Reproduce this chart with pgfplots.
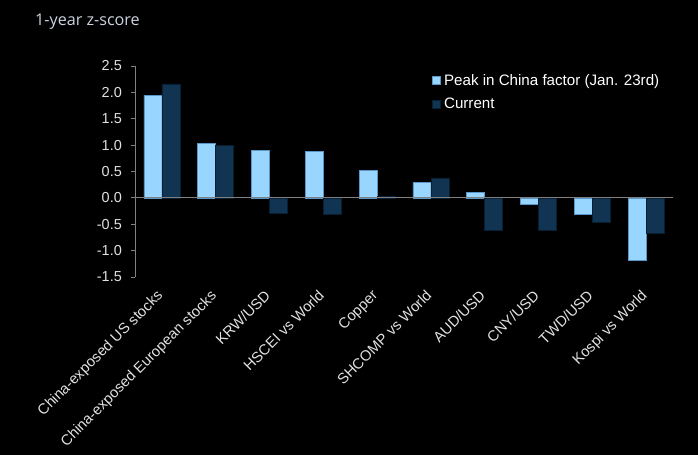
\documentclass[border=0pt]{standalone}
\usepackage{fontspec}
\setmainfont{Liberation Sans}
\newfontfamily\titlefont{Open Sans}
\usepackage{pgfplots}
\pgfplotsset{compat=1.18}
\definecolor{lightbar}{RGB}{153,214,255}
\definecolor{lightedge}{RGB}{90,150,200}
\definecolor{darkbar}{RGB}{16,52,82}
\definecolor{darkedge}{RGB}{8,30,50}
\definecolor{axisgrey}{RGB}{128,128,128}
\definecolor{labeltext}{RGB}{225,225,225}
\definecolor{titletext}{RGB}{205,212,225}

\begin{document}
\begin{tikzpicture}
  \path[use as bounding box, fill=black] (0,0) rectangle (698bp,455bp);
  \node[anchor=base west, text=titletext, inner sep=0pt, font=\titlefont\fontsize{16.2}{19}\selectfont]
    at (35bp,429bp) {1-year z-score};
  \begin{axis}[
      at={(135bp,178bp)}, anchor=south west,
      scale only axis,
      width=538bp, height=211bp,
      ybar=0pt, bar width=18bp,
      xmin=-0.5, xmax=9.5,
      ymin=-1.5, ymax=2.5,
      ytick={-1.5,-1,...,2.5},
      xtick={0,...,9},
      xticklabels={China-exposed US stocks, China-exposed European stocks, KRW/USD, HSCEI vs World, Copper, SHCOMP vs World, AUD/USD, CNY/USD, TWD/USD, Kospi vs World},
      axis y line*=left,
      axis x line*=bottom,
      x axis line style={draw=none},
      y axis line style={axisgrey, line width=0.8bp},
      x tick style={draw=none},
      y tick style={axisgrey, line width=0.8bp},
      tick align=outside,
      major tick length=4bp,
      /pgf/number format/assume math mode=true,
      yticklabel style={/pgf/number format/fixed, /pgf/number format/fixed zerofill, /pgf/number format/precision=1,
        font=\fontsize{14.5}{16}\selectfont, text=labeltext, inner sep=0pt, xshift=-9bp},
      xticklabel style={rotate=45, anchor=north east, inner sep=0pt, xshift=-9.7bp, yshift=-1.2bp,
        font=\fontsize{14.8}{16}\selectfont, text=labeltext},
      legend style={at={(0.547,0.975)}, anchor=north west, draw=none, fill=none,
        text=white, font=\fontsize{15.2}{17}\selectfont, row sep=9bp,
        nodes={inner sep=1bp, anchor=west}},
      legend cell align=left,
      legend image code/.code={\fill[#1] (0bp,-4bp) rectangle (8bp,4bp);},
    ]
    \addplot[fill=lightbar, draw=lightedge, line width=0.6bp] coordinates {
      (0,1.95) (1,1.04) (2,0.90) (3,0.88) (4,0.52) (5,0.29) (6,0.10) (7,-0.13) (8,-0.32) (9,-1.18)};
    \addplot[fill=darkbar, draw=darkedge, line width=0.6bp] coordinates {
      (0,2.16) (1,0.99) (2,-0.30) (3,-0.32) (4,0.03) (5,0.38) (6,-0.61) (7,-0.61) (8,-0.47) (9,-0.68)};
    \legend{\hspace{2bp}Peak in China factor (Jan. 23rd), \hspace{2bp}Current}
    \draw[axisgrey, line width=0.8bp] (axis cs:-0.5,0) -- (axis cs:9.5,0);
  \end{axis}
\end{tikzpicture}
\end{document}
